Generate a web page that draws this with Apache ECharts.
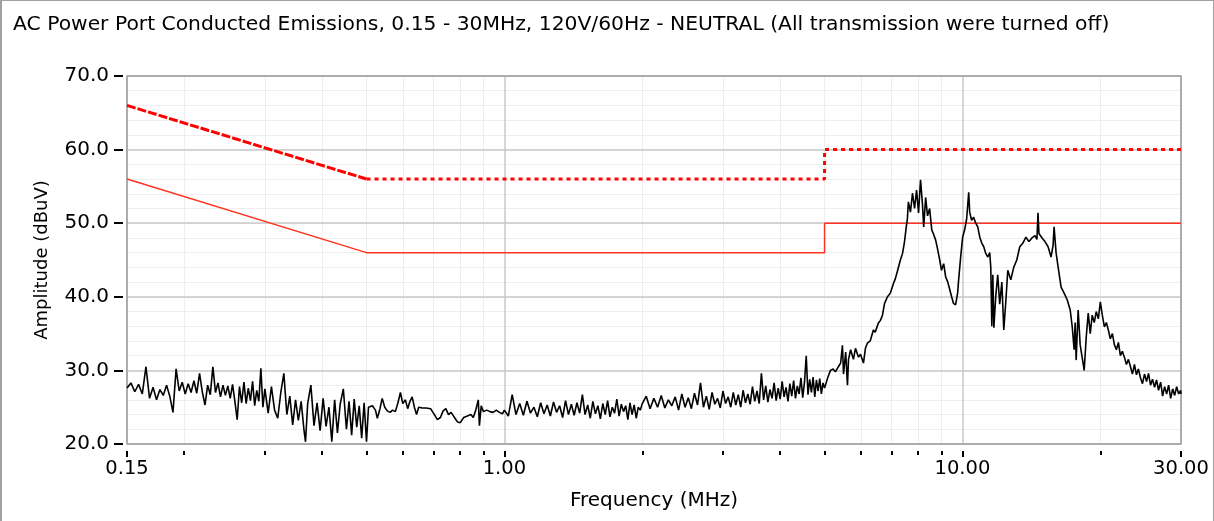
<!DOCTYPE html>
<html>
<head>
<meta charset="utf-8">
<title>AC Power Port Conducted Emissions</title>
<script src="https://cdn.jsdelivr.net/npm/echarts@6/dist/echarts.min.js"></script>
<style>
  html, body { margin: 0; padding: 0; background: #fff; }
  #main { position: absolute; left: 0; top: 0; width: 1214px; height: 521px; }
  #frame { position: absolute; left: 0; top: 0; width: 1211px; height: 520px;
           border-left: 2px solid #a0a0a0; border-top: 1px solid #a0a0a0; border-right: 1px solid #a0a0a0;
           pointer-events: none; }
</style>
</head>
<body>
<div id="main"></div>
<div id="frame"></div>
<script>
// limit lines (MHz, dBuV)
const limitFreq = [0.15, 0.5, 5, 5, 30];
const qpLimit = [66, 56, 56, 60, 60];
const avLimit = [56, 46, 46, 50, 50];

// x axis ticks
const majorTicks = [0.15, 1, 10, 30];
const minorTicks = [0.2, 0.3, 0.4, 0.5, 0.6, 0.7, 0.8, 0.9, 2, 3, 4, 5, 6, 7, 8, 9, 20];

const traceLow = [
  [0.150,27.6],[0.153,28.3],[0.156,27.1],[0.159,28.1],[0.162,26.8],[0.165,30.5],[0.168,26.2],[0.171,27.7],
  [0.174,26.0],[0.177,27.4],[0.180,26.6],[0.183,28.0],[0.186,26.5],[0.189,24.3],[0.192,30.2],[0.195,27.2],
  [0.198,28.4],[0.201,26.8],[0.204,28.2],[0.207,27.0],[0.210,28.6],[0.213,26.9],[0.216,29.6],[0.219,27.1],
  [0.222,25.3],[0.225,28.0],[0.228,26.7],[0.231,30.5],[0.234,27.0],[0.237,28.3],[0.240,26.4],[0.243,28.0],
  [0.246,26.6],[0.249,27.9],[0.252,26.2],[0.255,28.1],[0.258,25.8],[0.261,23.3],[0.264,27.8],[0.267,25.6],
  [0.270,28.4],[0.273,25.5],[0.276,27.6],[0.279,25.9],[0.282,28.5],[0.285,25.2],[0.288,27.3],[0.291,25.8],
  [0.294,30.3],[0.297,25.0],[0.300,27.5],[0.305,24.2],[0.310,27.8],[0.315,24.6],[0.320,23.5],[0.325,27.0],
  [0.330,29.6],[0.335,24.0],[0.340,26.5],[0.345,22.6],[0.350,26.0],[0.355,23.2],[0.360,25.8],[0.365,22.0],
  [0.368,20.3],[0.372,25.5],[0.378,28.0],[0.384,22.5],[0.390,25.6],[0.396,21.8],[0.402,26.2],[0.408,22.4],
  [0.414,25.0],[0.420,20.3],[0.426,26.0],[0.432,21.5],[0.438,25.4],[0.445,27.5],[0.452,22.0],[0.458,25.8],
  [0.464,21.2],[0.470,26.1],[0.476,22.3],[0.482,25.2],[0.488,20.8],[0.494,25.6],[0.500,20.3]
];
const traceMid = [
  [0.505,25.0],[0.515,25.2],[0.523,24.6],[0.528,23.5],[0.535,24.8],[0.541,26.2],[0.548,25.0],[0.555,24.5],
  [0.563,24.3],[0.570,24.6],[0.578,24.4],[0.585,25.5],[0.593,27.0],[0.600,25.5],[0.608,26.0],[0.615,24.8],
  [0.622,25.8],[0.629,26.4],[0.636,25.0],[0.643,24.0],[0.650,25.0],[0.662,24.9],[0.675,24.9],[0.690,24.8],
  [0.700,24.2],[0.714,23.3],[0.725,23.6],[0.735,24.5],[0.745,24.8],[0.755,24.0],[0.765,24.3],[0.780,23.5],
  [0.790,23.0],[0.801,22.9],[0.815,23.6],[0.830,23.8],[0.845,24.0],[0.855,23.6],[0.865,24.5],[0.877,26.0],
  [0.882,22.5],[0.890,25.2],[0.900,24.4],[0.915,24.6],[0.930,24.4],[0.945,24.3],[0.960,24.6],[0.975,24.3],
  [0.990,24.1],[1.000,24.6]
];
const traceBand = [
  [1.02,23.8],[1.04,26.7],[1.06,24.0],[1.08,25.5],[1.10,23.9],[1.12,25.8],[1.14,24.2],[1.16,25.0],
  [1.18,23.7],[1.20,25.6],[1.22,24.1],[1.24,25.3],[1.26,23.8],[1.28,25.7],[1.30,24.3],[1.32,25.2],
  [1.34,23.6],[1.36,25.9],[1.38,24.0],[1.40,25.4],[1.42,23.9],[1.44,25.6],[1.46,24.2],[1.48,26.7],
  [1.50,24.0],[1.52,25.3],[1.54,23.5],[1.56,25.8],[1.58,24.1],[1.60,25.2],[1.62,23.4],[1.64,25.5],
  [1.66,24.0],[1.68,25.9],[1.70,23.7],[1.72,25.0],[1.74,24.2],[1.76,26.1],[1.78,23.8],[1.80,25.4],
  [1.82,24.4],[1.84,25.2],[1.86,23.3],[1.88,25.6],[1.90,24.0],[1.92,25.3],[1.94,23.5],[1.96,25.0],
  [1.98,24.6],[2.00,25.5],[2.04,26.5],[2.08,24.8],[2.12,26.2],[2.16,25.0],[2.20,26.6],[2.24,24.9],
  [2.28,26.0],[2.32,25.2],[2.36,26.4],[2.40,24.6],[2.44,26.8],[2.48,25.0],[2.52,26.3],[2.56,24.8],
  [2.60,26.9],[2.64,25.3],[2.68,28.3],[2.72,25.0],[2.76,26.5],[2.80,24.7],[2.84,27.0],[2.88,25.4],
  [2.92,26.2],[2.96,24.9],[3.00,27.2],[3.04,25.5],[3.08,26.4],[3.12,25.0],[3.16,27.0],[3.20,25.3],
  [3.24,26.7],[3.28,25.0],[3.32,27.3],[3.36,25.6],[3.40,26.8],[3.44,25.4],[3.48,27.8],[3.52,25.8],
  [3.56,27.2],[3.60,25.5],[3.64,29.6],[3.68,26.0],[3.72,27.9],[3.76,25.7],[3.80,27.4],[3.84,26.2],
  [3.88,28.3],[3.92,25.9],[3.96,27.6],[4.00,26.1],[4.04,28.5],[4.08,26.4],[4.12,27.7],[4.16,25.8],
  [4.20,28.2],[4.24,26.5],[4.28,28.6],[4.32,26.2],[4.36,27.9],[4.40,26.8],[4.44,29.0],[4.48,26.3],
  [4.52,28.4],[4.56,32.0],[4.60,26.7],[4.64,28.8],[4.68,27.0],[4.72,29.1],[4.76,26.4],[4.80,28.7],
  [4.84,27.2],[4.88,28.9],[4.92,26.8],[4.96,28.3],[5.00,27.6]
];
const traceHigh = [
  [5.02,27.5],[5.08,29.0],[5.15,30.0],[5.22,30.2],[5.28,29.8],[5.36,30.5],[5.42,31.0],[5.47,33.4],
  [5.50,29.5],[5.56,32.5],[5.61,28.0],[5.64,31.5],[5.70,32.8],[5.78,31.5],[5.84,33.0],[5.93,31.8],
  [5.99,32.2],[6.08,31.0],[6.14,33.0],[6.20,33.7],[6.29,34.0],[6.39,35.5],[6.45,35.2],[6.55,36.4],
  [6.62,36.8],[6.69,37.5],[6.76,39.1],[6.86,40.0],[6.96,40.5],[7.07,41.8],[7.14,42.5],[7.22,43.6],
  [7.32,45.0],[7.40,45.9],[7.47,47.4],[7.55,49.8],[7.58,50.5],[7.62,52.9],[7.70,51.5],[7.78,54.1],
  [7.86,52.0],[7.94,54.5],[8.02,51.4],[8.10,55.9],[8.18,52.5],[8.23,49.5],[8.31,53.5],[8.39,51.0],
  [8.48,52.0],[8.57,49.1],[8.65,48.5],[8.74,47.7],[8.83,46.4],[8.92,45.0],[9.00,43.6],[9.10,44.5],
  [9.19,42.7],[9.29,42.0],[9.38,41.0],[9.47,40.0],[9.56,39.1],[9.66,38.9],[9.76,40.5],[9.81,42.3],
  [9.91,45.4],[10.01,48.1],[10.11,49.1],[10.21,50.5],[10.32,54.2],[10.37,51.5],[10.47,50.4],[10.58,50.8],
  [10.69,50.0],[10.80,49.5],[10.91,48.1],[11.02,47.3],[11.13,46.8],[11.24,45.9],[11.36,45.4],[11.47,46.0],
  [11.53,44.0],[11.59,36.0],[11.65,43.0],[11.71,35.8],[11.82,40.0],[11.94,43.0],[12.06,39.0],[12.19,42.0],
  [12.31,35.5],[12.44,39.5],[12.56,43.6],[12.75,42.3],[12.94,44.0],[13.14,45.0],[13.34,46.8],[13.55,47.3],
  [13.76,48.1],[13.97,47.5],[14.18,48.0],[14.40,48.3],[14.54,47.8],[14.62,51.4],[14.69,48.6],[14.92,48.0],
  [15.14,47.5],[15.38,46.8],[15.61,45.4],[15.77,47.0],[15.85,49.5],[16.01,46.0],[16.17,44.1],[16.42,41.3],
  [16.67,40.5],[16.93,39.6],[17.19,38.2],[17.36,36.0],[17.53,32.8],[17.62,36.5],[17.71,31.4],[17.89,38.2],
  [18.07,33.5],[18.25,31.8],[18.44,30.0],[18.63,34.5],[18.82,37.8],[19.01,35.0],[19.20,37.5],[19.40,36.5],
  [19.59,38.0],[19.80,37.0],[20.00,39.3],[20.20,37.5],[20.41,35.9],[20.61,36.5],[20.82,35.5],[21.03,34.3],
  [21.25,35.0],[21.46,33.5],[21.68,32.8],[21.90,33.8],[22.12,32.0],[22.34,32.6],[22.57,31.8],[22.80,30.8],
  [23.03,31.5],[23.27,30.5],[23.50,29.5],[23.74,30.8],[23.98,29.4],[24.22,30.2],[24.47,29.0],[24.72,28.2],
  [24.97,29.5],[25.23,28.5],[25.48,29.6],[25.74,28.0],[26.00,28.8],[26.27,27.7],[26.53,28.7],[26.80,27.3],
  [27.08,28.4],[27.35,26.5],[27.63,27.8],[27.91,26.8],[28.19,28.0],[28.48,26.2],[28.77,27.5],[29.06,26.6],
  [29.35,27.8],[29.65,26.8],[29.95,27.3],[30.00,26.8]
];

const FONT = 'DejaVu Sans';
const lg = v => Math.log10(v);
const pairs = (xs, ys) => xs.map((x, i) => [x, ys[i]]);

const qpPts = pairs(limitFreq, qpLimit);
const avPts = pairs(limitFreq, avLimit);
const trace = traceLow.concat(traceMid, traceBand, traceHigh);

const chart = echarts.init(document.getElementById('main'), null, { renderer: 'canvas' });

const option = {
  animation: false,
  backgroundColor: '#fff',
  title: {
    text: 'AC Power Port Conducted Emissions, 0.15 - 30MHz, 120V/60Hz - NEUTRAL (All transmission were turned off)',
    left: 8, top: 10,
    textStyle: { fontFamily: FONT, fontSize: 20.3, fontWeight: 'normal', color: '#000' }
  },
  grid: {
    left: 127, right: 33, top: 76, bottom: 77,
    show: true, borderColor: '#a0a0a0', borderWidth: 1.5, z: 1
  },
  xAxis: [
    // data axis (log scale), drawn invisibly
    { type: 'log', logBase: 10, min: 0.15, max: 30, show: false },
    // minor ticks and light grid
    {
      type: 'value', position: 'bottom', min: lg(0.15), max: lg(30), offset: 7, z: 0,
      axisLine: { show: false, onZero: false }, axisLabel: { show: false },
      axisTick: { show: true, customValues: minorTicks.map(lg), length: 4, lineStyle: { color: '#000', width: 2 } },
      splitLine: { show: true, lineStyle: { color: '#eeeeee', width: 1 } }
    },
    // major ticks, labels and darker grid
    {
      type: 'value', position: 'bottom', min: lg(0.15), max: lg(30), offset: 7, z: 0.5,
      axisLine: { show: false, onZero: false },
      axisTick: { show: true, customValues: majorTicks.map(lg), length: 6, lineStyle: { color: '#000', width: 2 } },
      axisLabel: {
        customValues: majorTicks.map(lg), margin: 8,
        formatter: v => Math.pow(10, v).toFixed(2),
        fontFamily: FONT, fontSize: 19.5, color: '#000'
      },
      splitLine: { show: true, lineStyle: { color: '#c8c8c8', width: 1.5 } },
      name: 'Frequency (MHz)', nameLocation: 'middle', nameGap: 40,
      nameTextStyle: { fontFamily: FONT, fontSize: 20, color: '#000' }
    }
  ],
  yAxis: [
    {
      type: 'value', position: 'left', min: 20, max: 70, interval: 10, offset: 4, z: 0.5,
      axisLine: { show: false, onZero: false },
      axisTick: { show: true, length: 9, lineStyle: { color: '#000', width: 2 } },
      axisLabel: { formatter: v => v.toFixed(1), margin: 14, fontFamily: FONT, fontSize: 20, color: '#000' },
      splitLine: { show: true, lineStyle: { color: '#c8c8c8', width: 1.5 } },
      name: 'Amplitude (dBuV)', nameLocation: 'middle', nameGap: 72, nameRotate: 90,
      nameTextStyle: { fontFamily: FONT, fontSize: 18, color: '#000' }
    },
    {
      type: 'value', position: 'left', min: 20, max: 70, interval: 2, z: 0,
      axisLine: { show: false, onZero: false }, axisTick: { show: false }, axisLabel: { show: false },
      splitLine: { show: true, lineStyle: { color: '#eeeeee', width: 1 } }
    }
  ],
  series: [
    {
      name: 'QP limit', type: 'line', xAxisIndex: 0, yAxisIndex: 0, data: qpPts.slice(0, 2),
      showSymbol: false, lineStyle: { color: '#ff0000', width: 3, type: [9, 2] }, z: 3
    },
    {
      name: 'QP limit', type: 'line', xAxisIndex: 0, yAxisIndex: 0, data: qpPts.slice(1),
      showSymbol: false, lineStyle: { color: '#ff0000', width: 3, type: [4, 4] }, z: 3
    },
    {
      name: 'AV limit', type: 'line', xAxisIndex: 0, yAxisIndex: 0, data: avPts,
      showSymbol: false, lineStyle: { color: '#ff3322', width: 1.5 }, z: 3
    },
    {
      name: 'Neutral', type: 'line', xAxisIndex: 0, yAxisIndex: 0, data: trace,
      showSymbol: false, lineStyle: { color: '#000', width: 1.6 }, z: 4
    }
  ]
};

chart.setOption(option);
</script>
</body>
</html>
